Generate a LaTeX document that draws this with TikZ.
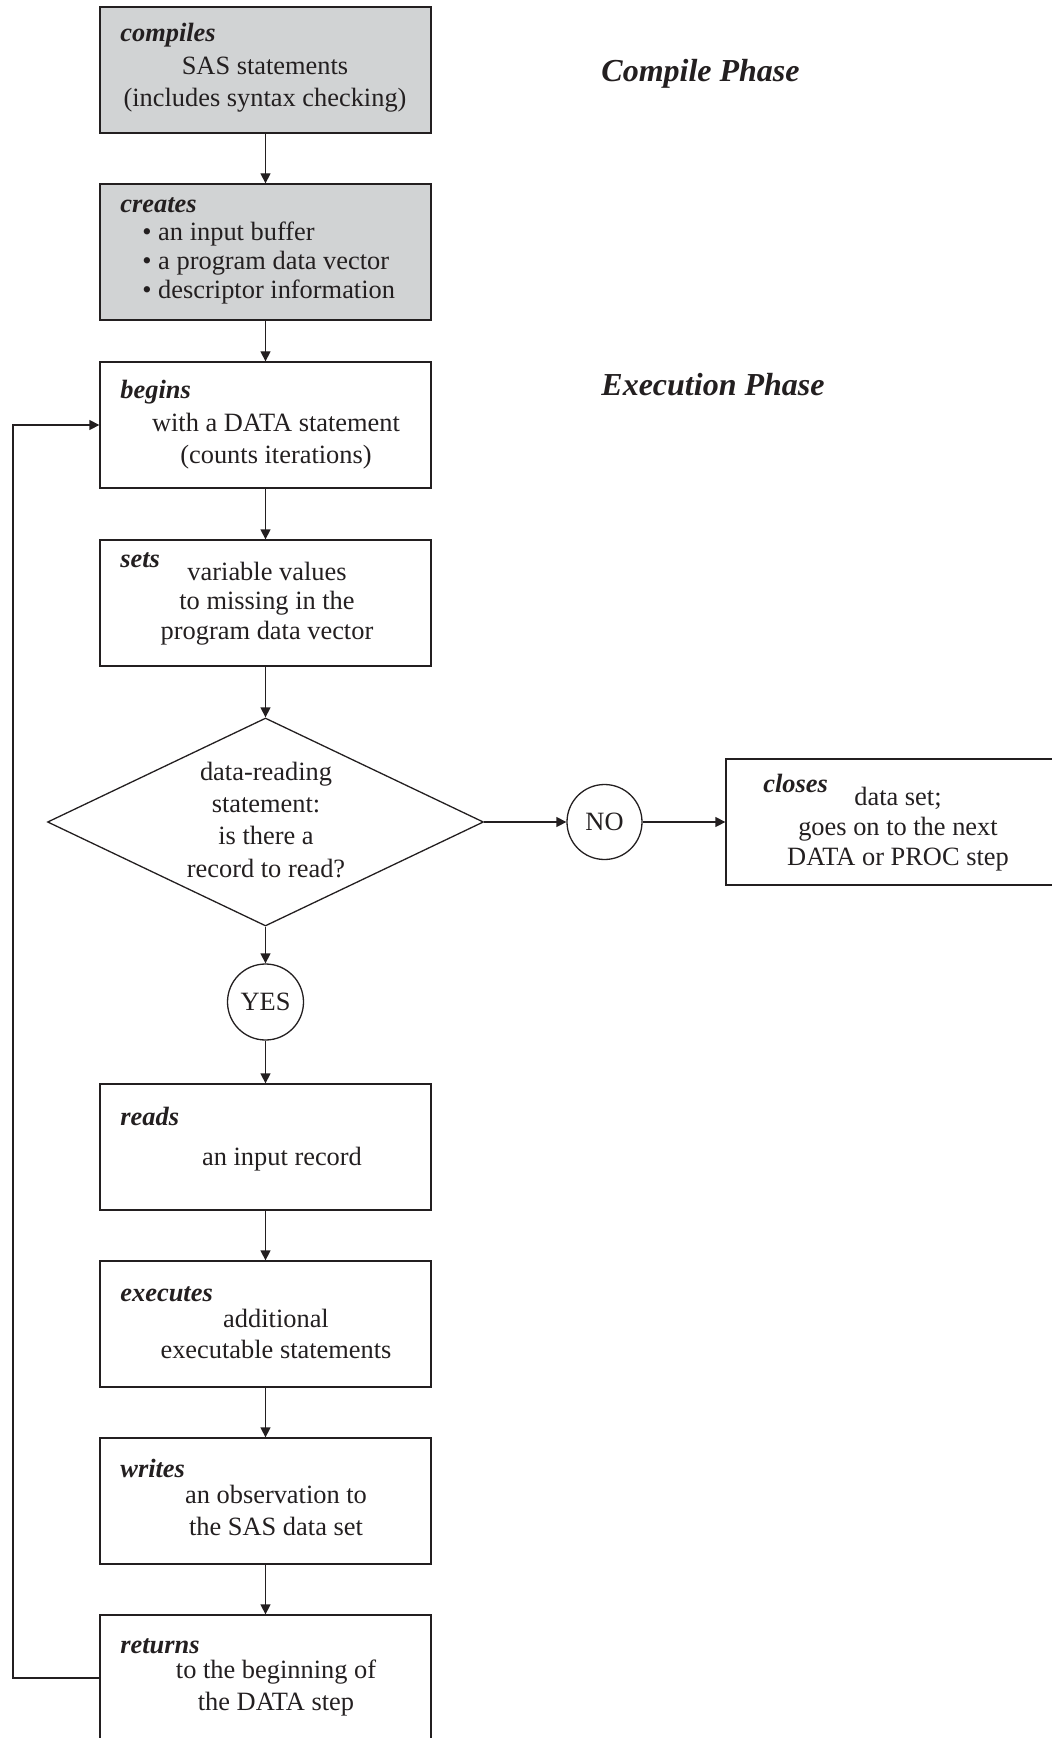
\documentclass[tikz,border=0pt]{standalone}
\usepackage{fontspec}
\setmainfont{Liberation Serif}
\usetikzlibrary{arrows.meta,shapes.geometric}
\definecolor{boxgray}{RGB}{209,211,212}
\definecolor{ink}{RGB}{35,31,32}
\newcommand\txtlines[2]{\fontsize{13.2}{#1}\selectfont\begin{tabular}[t]{@{}c@{}}#2\end{tabular}}
\newcommand\txtleft[2]{\fontsize{13.2}{#1}\selectfont\begin{tabular}[t]{@{}l@{}}#2\end{tabular}}
\begin{document}
\begin{tikzpicture}[x=0.5pt,y=-0.5pt,color=ink,
  box/.style={draw=ink,line width=0.65pt,rectangle,minimum width=165.5pt,minimum height=63pt,inner sep=0pt},
  lbl/.style={anchor=base west,inner sep=0pt,font=\fontsize{13.2}{16}\selectfont\bfseries\itshape},
  body/.style={anchor=base,inner sep=0pt},
  phase/.style={anchor=base west,inner sep=0pt,font=\fontsize{16}{19}\selectfont\bfseries\itshape},
  arr/.style={-{Triangle[length=5pt,width=5pt]},line width=0.65pt,draw=ink},
  roundel/.style={draw=ink,line width=0.65pt,circle,inner sep=0pt,font=\fontsize{13.2}{16}\selectfont}]
\clip (0,0) rectangle (1052,1738);
\useasboundingbox (0,0) rectangle (1052,1738);

% boxes
\node[box,fill=boxgray] (compile) at (265.5,70) {};
\node[box,fill=boxgray,minimum height=68pt] (create) at (265.5,252) {};
\node[box] (begin) at (265.5,425) {};
\node[box] (sets) at (265.5,603) {};
\node[diamond,draw=ink,line width=0.65pt,inner sep=0pt,minimum width=218pt,minimum height=104pt] (dec) at (265.5,822) {};
\node[roundel,minimum size=37.5pt] (no) at (604.5,822) {NO};
\node[box,minimum width=172pt] (close) at (898,822) {};
\node[roundel,minimum size=38pt] (yes) at (265.5,1002) {YES};
\node[box] (reads) at (265.5,1147) {};
\node[box] (exec) at (265.5,1324) {};
\node[box] (writes) at (265.5,1501) {};
\node[box] (returns) at (265.5,1678) {};

% texts
\node[lbl] (compileL) at (120,42) {compiles};
\node[body] (compileT) at (265,75) {\txtlines{16pt}{SAS statements\\(includes syntax checking)}};
\node[lbl] (createL) at (120,213) {creates};
\node[anchor=base west,inner sep=0pt] (createT) at (142,241) {\txtleft{14.3pt}{• an input buffer\\• a program data vector\\• descriptor information}};
\node[lbl] (beginL) at (120,398) {begins};
\node[body] (beginT) at (276,431) {\txtlines{16pt}{with a DATA statement\\(counts iterations)}};
\node[lbl] (setsL) at (120,567) {sets};
\node[body] (setsT) at (267,580) {\txtlines{14.75pt}{variable values\\to missing in the\\program data vector}};
\node[body] (decT) at (266,780) {\txtlines{16.2pt}{data-reading\\statement:\\is there a\\record to read?}};
\node[lbl] (closeL) at (763,792) {closes};
\node[body] (closeT) at (898,805) {\txtlines{15pt}{data set;\\goes on to the next\\DATA or PROC step}};
\node[lbl] (readsL) at (120,1125) {reads};
\node[body] (readsT) at (282,1165) {\txtlines{16pt}{an input record}};
\node[lbl] (execL) at (120,1301) {executes};
\node[body] (execT) at (276,1327) {\txtlines{15.5pt}{additional\\executable statements}};
\node[lbl] (writesL) at (120,1477) {writes};
\node[body] (writesT) at (276,1503) {\txtlines{16pt}{an observation to\\the SAS data set}};
\node[lbl] (returnsL) at (120,1653) {returns};
\node[body] (returnsT) at (276,1678) {\txtlines{16pt}{to the beginning of\\the DATA step}};

\node[phase] (compilePh) at (601,82) {Compile Phase};
\node[phase] (execPh) at (601,395) {Execution Phase};

% connectors
\draw[arr] (compile) -- (create);
\draw[arr] (create) -- (begin);
\draw[arr] (begin) -- (sets);
\draw[arr] (sets) -- (dec.north);
\draw[arr] (dec.south) -- (yes);
\draw[arr] (yes) -- (reads);
\draw[arr] (reads) -- (exec);
\draw[arr] (exec) -- (writes);
\draw[arr] (writes) -- (returns);
\draw[arr] (dec.east) -- (no.west);
\draw[arr] (no.east) -- (close.west);
\coordinate (loop) at (13,1000);
\draw[arr] (returns.west) -- (returns.west -| loop) |- (begin.west);
\end{tikzpicture}
\end{document}
